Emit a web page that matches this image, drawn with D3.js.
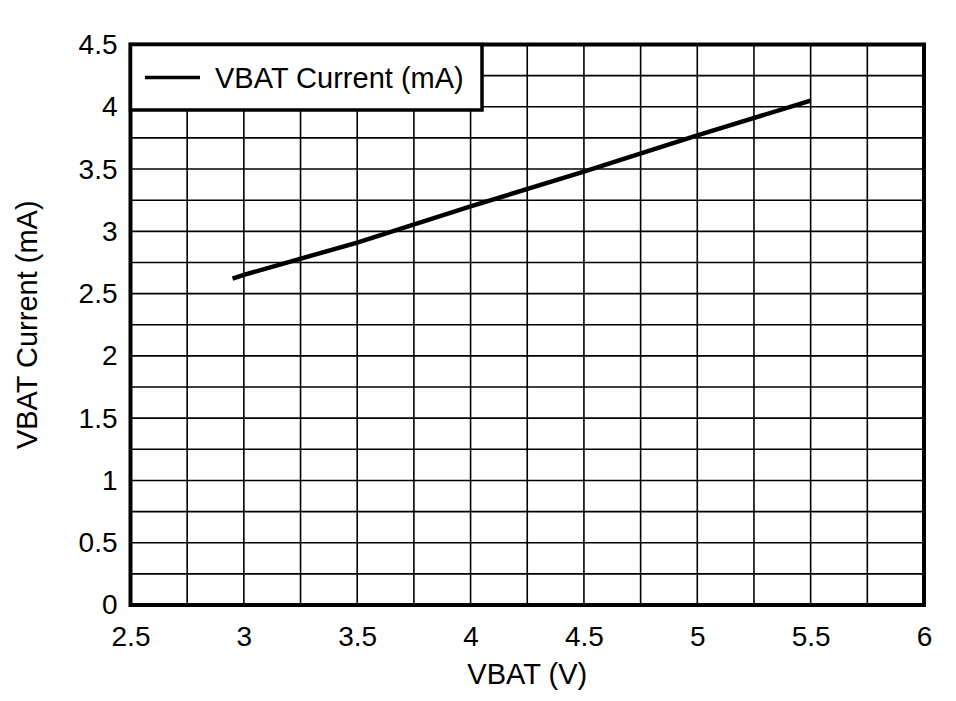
<!DOCTYPE html>
<html>
<head>
<meta charset="utf-8">
<script src="https://cdn.jsdelivr.net/npm/d3@7"></script>
<style>
  body { margin: 0; background: #fff; }
  text { font-family: "Liberation Sans", Arial, sans-serif; fill: #000; }
</style>
</head>
<body>
<svg width="956" height="701"></svg>
<script>
"use strict";

const vbat = [2.95, 3, 3.5, 4, 4.5, 5, 5.5]
const current = [2.62, 2.65, 2.91, 3.2, 3.48, 3.77, 4.05]
const xTicks = [2.5, 3, 3.5, 4, 4.5, 5, 5.5, 6]
const yTicks = [0, 0.5, 1, 1.5, 2, 2.5, 3, 3.5, 4, 4.5]
const seriesName = 'VBAT Current (mA)'

const svg = d3.select('svg')
const L = 130.5, R = 924, T = 44.5, B = 605

const x = d3.scaleLinear().domain([2.5, 6]).range([L, R])
const y = d3.scaleLinear().domain([0, 4.5]).range([B, T])

// grid every 0.25
const gx = d3.range(2.75, 6, 0.25), gy = d3.range(0.25, 4.5, 0.25)
svg.append('g').selectAll('line').data(gx).enter().append('line')
	.attr('x1', d => x(d)).attr('x2', d => x(d)).attr('y1', T).attr('y2', B)
	.attr('stroke', '#000').attr('stroke-width', 1.6)
svg.append('g').selectAll('line').data(gy).enter().append('line')
	.attr('y1', d => y(d)).attr('y2', d => y(d)).attr('x1', L).attr('x2', R)
	.attr('stroke', '#000').attr('stroke-width', 1.6)

// data line
svg.append('path')
	.datum(d3.zip(vbat, current))
	.attr('d', d3.line().x(d => x(d[0])).y(d => y(d[1])))
	.attr('fill', 'none').attr('stroke', '#000').attr('stroke-width', 4.5)

// frame
svg.append('rect').attr('x', L).attr('y', T).attr('width', R - L).attr('height', B - T)
	.attr('fill', 'none').attr('stroke', '#000').attr('stroke-width', 4)

// axes (labels only)
const xAxis = svg.append('g').attr('transform', `translate(0,${B})`)
	.call(d3.axisBottom(x).tickValues(xTicks).tickSize(0).tickPadding(21).tickFormat(d3.format('')))
const yAxis = svg.append('g').attr('transform', `translate(${L},0)`)
	.call(d3.axisLeft(y).tickValues(yTicks).tickSize(0).tickPadding(13).tickFormat(d3.format('')))
;[xAxis, yAxis].forEach(a => {
	a.select('.domain').remove()
	a.selectAll('text').attr('font-size', 28).attr('font-family', '"Liberation Sans", Arial, sans-serif').attr('fill', '#000')
})

svg.append('text').attr('x', (L + R) / 2).attr('y', 684).attr('text-anchor', 'middle')
	.attr('font-size', 29).text('VBAT (V)')
svg.append('text').attr('transform', `translate(37,${(T + B) / 2}) rotate(-90)`)
	.attr('text-anchor', 'middle').attr('font-size', 29).text('VBAT Current (mA)')

// legend
const lg = svg.append('g')
lg.append('rect').attr('x', L).attr('y', T).attr('width', 482 - L).attr('height', 110 - T)
	.attr('fill', '#fff').attr('stroke', '#000').attr('stroke-width', 3.5)
lg.append('line').attr('x1', 145).attr('x2', 200).attr('y1', 77.5).attr('y2', 77.5)
	.attr('stroke', '#000').attr('stroke-width', 3.5)
lg.append('text').attr('x', 215).attr('y', 88).attr('font-size', 29).text(seriesName)
</script>
</body>
</html>
